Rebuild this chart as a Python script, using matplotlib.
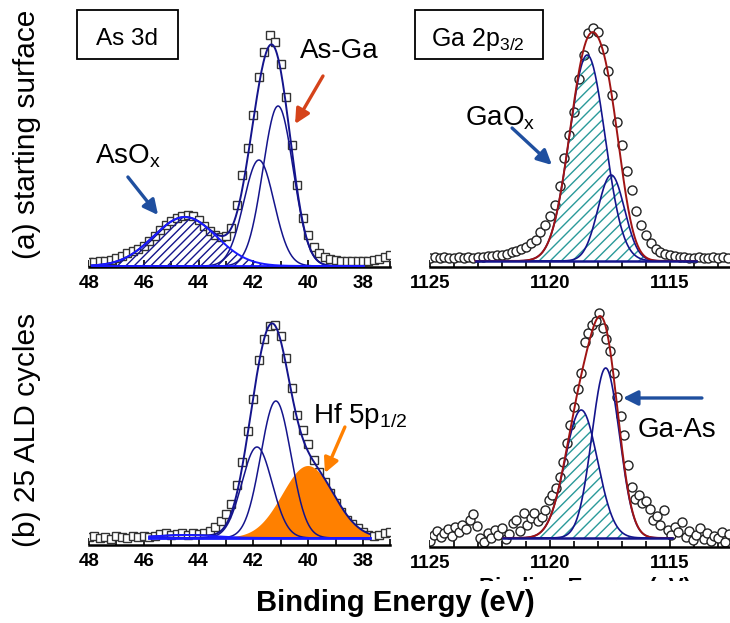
import numpy as np
import matplotlib
matplotlib.use('Agg')
import matplotlib.pyplot as plt
from matplotlib.patches import Rectangle
from matplotlib.ticker import MultipleLocator

plt.rcParams['font.family'] = ['Liberation Sans', 'DejaVu Sans']
plt.rcParams['mathtext.fontset'] = 'custom'
plt.rcParams['mathtext.rm'] = 'Liberation Sans'
plt.rcParams['mathtext.it'] = 'Liberation Sans:italic'
plt.rcParams['mathtext.bf'] = 'Liberation Sans:bold'
plt.rcParams['hatch.linewidth'] = 1.0

# As 3d, starting surface: 48.0 eV downwards in 0.2 eV steps
as_start_y = [5, 5, 6, 6, 7, 9, 11, 14, 16, 18, 21, 26, 31, 37, 42, 46,
              49, 51, 52, 51, 47, 41, 36, 32, 30, 31, 39, 62, 92, 119, 152,
              190, 215, 232, 225, 203, 170, 122, 82, 49, 32, 20, 14, 10, 8,
              7, 6, 6, 6, 6, 6, 6, 7, 8, 10, 12]
# As 3d, after 25 ALD cycles: 48.0 eV downwards in 0.2 eV steps
as_ald_y = [8, 9, 7, 8, 6, 9, 8, 7, 9, 8, 9, 8, 9, 11, 12, 10,
            11, 12, 10, 12, 11, 12, 14, 18, 24, 31, 41, 60, 83, 114, 146,
            185, 206, 219, 220, 209, 187, 157, 130, 115, 101, 85, 73, 63, 52,
            42, 33, 25, 21, 17, 13, 10, 9, 10, 12, 13]
# Ga 2p3/2, starting surface: 1125.0 eV downwards in 0.2 eV steps
ga_start_y = [9, 10, 9, 10, 9, 9, 10, 9, 10, 9, 10, 10, 11, 11, 12, 12,
              13, 15, 16, 18, 20, 24, 27, 35, 42, 51, 62, 81, 109, 132, 155,
              188, 212, 234, 239, 235, 218, 196, 172, 145, 122, 96, 77, 56, 42,
              32, 24, 18, 15, 13, 12, 11, 10, 10, 9, 9, 10, 9, 9, 10, 9, 10, 9]
# Ga 2p3/2, after 25 ALD cycles: 1125.0 eV downwards in 0.15 eV steps
ga_ald_y = [6, 12, 16, 10, 14, 18, 11, 20, 15, 22, 18, 27, 33, 21, 9, 5,
            14, 9, 17, 12, 19, 8, 13, 24, 27, 16, 34, 22, 29, 34, 26, 30,
            37, 47, 52, 59, 70, 85, 104, 122, 140, 158, 174, 205, 214, 222,
            226, 234, 219, 208, 196, 174, 150, 131, 112, 82, 60, 48, 52, 44,
            46, 38, 27, 31, 22, 37, 17, 12, 20, 15, 25, 10, 16, 7, 12, 19,
            8, 14, 6, 11, 9, 15, 5, 13]

# fitted components: (centre eV, height above background, FWHM eV)
as_start_bg = 1
as_start_asox = (44.5, 49, 2.7)
as_start_p1 = (41.8, 106, 1.3)
as_start_p2 = (41.1, 160, 1.3)

as_ald_bg = 7
as_ald_asox = (44.5, 3, 2.5)
as_ald_p1 = (41.87, 91, 1.3)
as_ald_p2 = (41.18, 137, 1.3)
as_ald_hf = (40.0, 72, 2.2)

ga_start_bg = 6
ga_start_ox = (1118.45, 206, 1.75)
ga_start_gaas = (1117.45, 86, 1.3)

ga_ald_bg = 9
ga_ald_ox = (1118.7, 128, 1.6)
ga_ald_gaas = (1117.68, 170, 1.35)

NAVY = '#14148c'
BLUE = '#1a1aff'
RED = '#a01414'
TEAL = '#2a9a9a'
ORANGE = '#ff8000'
ARROW_BLUE = '#1f4f9f'
ARROW_RED = '#d5431a'

W, H = 730, 623
fig = plt.figure(figsize=(W / 100, H / 100), dpi=100)


def fx(px):
    return px / W


def fy(py):
    return 1 - py / H


def panel(l, b, r, t, xlim, major, minor):
    ax = fig.add_axes([fx(l), fy(b), (r - l) / W, (b - t) / H])
    ax.set_xlim(*xlim)
    ax.set_ylim(0, b - t)
    for s in ['top', 'left', 'right']:
        ax.spines[s].set_visible(False)
    ax.spines['bottom'].set_linewidth(1.8)
    ax.xaxis.set_major_locator(MultipleLocator(major))
    ax.xaxis.set_minor_locator(MultipleLocator(minor))
    ax.tick_params(axis='x', which='both', direction='in', width=1.2,
                   labelsize=13.5, pad=6, top=False)
    ax.tick_params(axis='x', which='major', length=5)
    ax.tick_params(axis='x', which='minor', length=4)
    for lab in ax.get_xticklabels():
        lab.set_fontweight('bold')
    ax.set_yticks([])
    ax.patch.set_alpha(0)
    return ax


def peak(x, c, h, fwhm):
    return h * np.exp(-4 * np.log(2) * ((x - c) / fwhm) ** 2)


def arrow(ax, start, end, color):
    ax.annotate('', xy=end, xytext=start,
                arrowprops=dict(arrowstyle='-|>', color=color, lw=2.4,
                                mutation_scale=22, shrinkA=0, shrinkB=0))


# ---- (a) As 3d, starting surface
ax = panel(89, 267, 390.4, 20, (48, 37), 2, 1)
x = 48.0 - 0.2 * np.arange(len(as_start_y))
ax.plot(x, as_start_y, 's', ms=6.3, mfc='white', mec='#333333', mew=1.0, zorder=2)
xf = np.linspace(47.9, 38.0, 600)
ox = peak(xf, *as_start_asox)
p1 = peak(xf, *as_start_p1)
p2 = peak(xf, *as_start_p2)
bg = as_start_bg
ax.fill_between(xf, bg, bg + ox, facecolor='none', edgecolor=NAVY,
                hatch='////', linewidth=0, zorder=3)
ax.plot(xf, bg + p1, color=NAVY, lw=1.1, zorder=4)
ax.plot(xf, bg + p2, color=NAVY, lw=1.1, zorder=4)
ax.plot(xf, bg + ox + p1 + p2, color=NAVY, lw=1.4, zorder=4)
ax.plot(xf, bg + ox, color=BLUE, lw=1.4, zorder=5)
ax.plot([47.9, 38.0], [bg, bg], color=BLUE, lw=2, zorder=5)
ax.text(40.3, 209, 'As-Ga', fontsize=20, va='baseline')
arrow(ax, (39.46, 191), (40.48, 143), ARROW_RED)
ax.text(47.78, 104, r'AsO$_\mathregular{x}$', fontsize=20, va='baseline')
arrow(ax, (46.58, 90), (45.48, 52), ARROW_BLUE)

# ---- (a) Ga 2p3/2, starting surface
ax = panel(430, 267, 730, 20, (1125, 1112.5), 5, 1)
x = 1125.0 - 0.2 * np.arange(len(ga_start_y))
ax.plot(x, ga_start_y, 'o', ms=6.5, mfc='white', mec='#222222', mew=1.0, zorder=2)
xf = np.linspace(1123.1, 1113.9, 600)
ox = peak(xf, *ga_start_ox)
gaas = peak(xf, *ga_start_gaas)
bg = ga_start_bg
ax.fill_between(xf, bg, bg + np.maximum(ox, gaas), facecolor='none',
                edgecolor=TEAL, hatch='///', linewidth=0, zorder=3)
ax.plot(xf, bg + ox, color=NAVY, lw=1.2, zorder=4)
ax.plot(xf, bg + gaas, color=NAVY, lw=1.2, zorder=4)
ax.plot(xf, bg + ox + gaas, color=RED, lw=1.4, zorder=5)
ax.plot([1123.1, 1113.9], [bg, bg], color=NAVY, lw=1.8, zorder=5)
ax.text(1123.54, 142, r'GaO$_\mathregular{x}$', fontsize=20, va='baseline')
arrow(ax, (1121.58, 139), (1119.92, 102), ARROW_BLUE)

# ---- (b) As 3d, 25 ALD cycles
ax = panel(89, 545, 390.4, 300, (48, 37), 2, 1)
x = 48.0 - 0.2 * np.arange(len(as_ald_y))
ax.plot(x, as_ald_y, 's', ms=6.3, mfc='white', mec='#333333', mew=1.0, zorder=2)
xf = np.linspace(45.8, 37.75, 600)
ox = peak(xf, *as_ald_asox)
p1 = peak(xf, *as_ald_p1)
p2 = peak(xf, *as_ald_p2)
hf = peak(xf, *as_ald_hf)
bg = as_ald_bg
ax.fill_between(xf, bg, bg + hf, facecolor=ORANGE, edgecolor='none', zorder=3)
ax.plot(xf, bg + p1, color=NAVY, lw=1.1, zorder=4)
ax.plot(xf, bg + p2, color=NAVY, lw=1.1, zorder=4)
ax.plot(xf, bg + ox + p1 + p2 + hf, color=NAVY, lw=1.4, zorder=4)
ax.plot(xf, bg + ox, color=BLUE, lw=1.4, zorder=5)
ax.plot([45.8, 37.75], [bg, bg], color=BLUE, lw=2, zorder=5)
ax.text(39.82, 122, r'Hf 5p$_\mathregular{1/2}$', fontsize=20, va='baseline')
arrow(ax, (38.66, 118), (39.39, 72), ORANGE)

# ---- (b) Ga 2p3/2, 25 ALD cycles
ax = panel(430, 547, 730, 302, (1125, 1112.5), 5, 1)
x = 1125.0 - 0.15 * np.arange(len(ga_ald_y))
ax.plot(x, ga_ald_y, 'o', ms=6.5, mfc='white', mec='#222222', mew=1.0, zorder=2)
xf = np.linspace(1121.95, 1114.9, 600)
ox = peak(xf, *ga_ald_ox)
gaas = peak(xf, *ga_ald_gaas)
bg = ga_ald_bg
ax.fill_between(xf, bg, bg + ox, facecolor='none', edgecolor=TEAL,
                hatch='///', linewidth=0, zorder=3)
ax.plot(xf, bg + ox, color=NAVY, lw=1.2, zorder=4)
ax.plot(xf, bg + gaas, color=NAVY, lw=1.2, zorder=4)
ax.plot(xf, bg + ox + gaas, color=RED, lw=1.4, zorder=5)
ax.plot([1121.95, 1114.9], [bg, bg], color=NAVY, lw=1.8, zorder=5)
ax.text(1116.33, 110, 'Ga-As', fontsize=20, va='baseline')
arrow(ax, (1113.67, 149), (1116.96, 149), ARROW_BLUE)

# ---- boxed core-level labels
fig.add_artist(Rectangle((fx(77), fy(59)), 101 / W, 49 / H, transform=fig.transFigure,
                         fill=False, lw=1.3, ec='black'))
fig.text(fx(127), fy(45), 'As 3d', fontsize=17.5, ha='center', va='baseline')
fig.add_artist(Rectangle((fx(415), fy(59)), 128 / W, 49 / H, transform=fig.transFigure,
                         fill=False, lw=1.3, ec='black'))
fig.text(fx(431), fy(46), r'Ga 2p$_\mathregular{3/2}$', fontsize=18, ha='left', va='baseline')

# ---- row labels and common x label
fig.text(fx(27), fy(134), '(a) starting surface', fontsize=21.5, rotation=90,
         ha='center', va='center')
fig.text(fx(27), fy(430), '(b) 25 ALD cycles', fontsize=21.5, rotation=90,
         ha='center', va='center')

# clipped duplicate x label peeking out under the right column
fig.text(fx(585), fy(577), 'Binding Energy (eV)', fontsize=16, fontweight='bold',
         ha='center', va='top', zorder=1)
fig.add_artist(Rectangle((fx(440), fy(615)), 290 / W, 34 / H, transform=fig.transFigure,
                         fc='white', ec='none', zorder=10))

fig.text(fx(395), fy(611), 'Binding Energy (eV)', fontsize=21, fontweight='bold',
         ha='center', va='baseline', zorder=11)

fig.savefig('out.png', dpi=100)
